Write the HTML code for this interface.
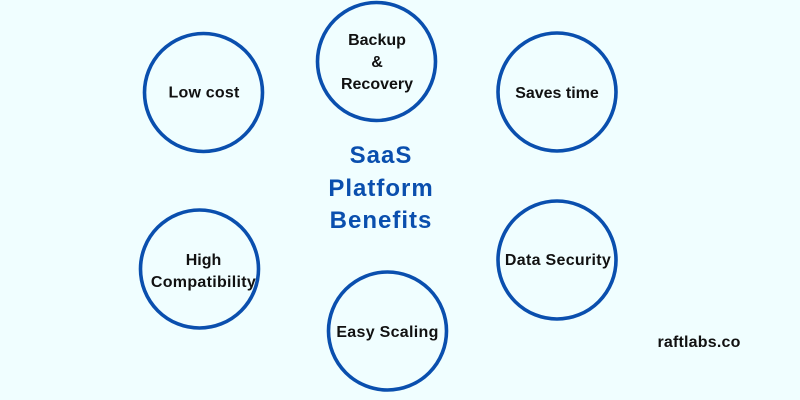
<!DOCTYPE html>
<html><head><meta charset="utf-8"><style>
html,body{margin:0;padding:0;background:#f0feff;}
svg{display:block;}
text{font-family:"Liberation Sans",sans-serif;font-weight:bold;}
</style></head><body>
<svg width="800" height="400" viewBox="0 0 800 400" xmlns="http://www.w3.org/2000/svg">
<rect width="800" height="400" fill="#f0feff"/>
<g fill="none" stroke="#0a4fae" stroke-width="3.6">
<circle cx="203.5" cy="92.5" r="59"/>
<circle cx="376.5" cy="61.5" r="59"/>
<circle cx="557" cy="92" r="59"/>
<circle cx="557" cy="260" r="59"/>
<circle cx="199.5" cy="269" r="59"/>
<circle cx="387.5" cy="331" r="59"/>
</g>
<g fill="#111" font-size="16" text-anchor="middle">
<text x="204" y="97.5" letter-spacing="0.2">Low cost</text>
<text x="377" y="45">Backup</text>
<text x="377" y="67">&amp;</text>
<text x="377" y="89">Recovery</text>
<text x="557" y="98">Saves time</text>
<text x="558" y="265" letter-spacing="0.3">Data Security</text>
<text x="203.5" y="265">High</text>
<text x="203.5" y="287" letter-spacing="0.3">Compatibility</text>
<text x="387.5" y="337" letter-spacing="0.3">Easy Scaling</text>
<text x="699" y="347" letter-spacing="0.2">raftlabs.co</text>
</g>
<g fill="#0a4fae" font-size="24" text-anchor="middle" letter-spacing="1">
<text x="381" y="163">SaaS</text>
<text x="381" y="196">Platform</text>
<text x="381" y="228">Benefits</text>
</g>
</svg>
</body></html>
